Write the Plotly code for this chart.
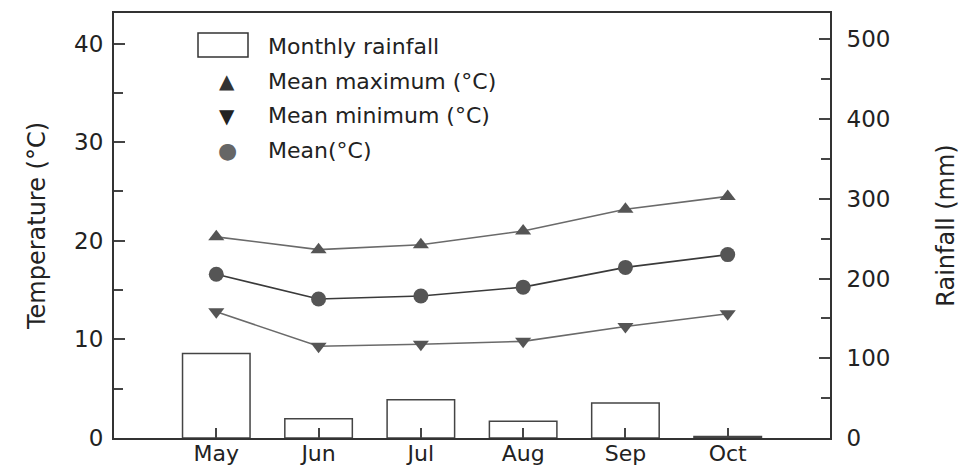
import plotly.graph_objects as go

# Monthly climate data
months = ["May", "Jun", "Jul", "Aug", "Sep", "Oct"]
rainfall_mm = [106, 24, 48, 21, 44, 2]
mean_max = [20.4, 19.1, 19.6, 21.0, 23.2, 24.5]
mean_min = [12.8, 9.3, 9.5, 9.8, 11.3, 12.6]
mean_temp = [16.6, 14.1, 14.4, 15.3, 17.3, 18.6]

legend_labels = ["Monthly rainfall", "Mean maximum (°C)", "Mean minimum (°C)", "Mean(°C)"]
temp_ticks = [0, 10, 20, 30, 40]
rain_ticks = [0, 100, 200, 300, 400, 500]

FONT = "DejaVu Sans"
W, H = 961, 475
ML, MR, MT, MB = 114, 131, 13, 37
PW, PH = W - ML - MR, H - MT - MB

AXIS_COL = "#333333"
MARK_COL = "#555555"
LINE_COL = "#6a6a6a"


def px(x):
    return (x - ML) / PW


def py(y):
    return (H - MB - y) / PH


xpos = list(range(len(months)))

fig = go.Figure()

fig.add_trace(go.Bar(
    x=xpos, y=rainfall_mm, yaxis="y2", width=0.66,
    marker=dict(color="white", line=dict(color="#444444", width=1.5)),
    showlegend=False,
))

fig.add_trace(go.Scatter(
    x=xpos, y=mean_max, mode="lines+markers",
    line=dict(color=LINE_COL, width=1.6),
    marker=dict(symbol="triangle-up", size=14, color=MARK_COL),
    showlegend=False,
))
fig.add_trace(go.Scatter(
    x=xpos, y=mean_temp, mode="lines+markers",
    line=dict(color="#3a3a3a", width=1.6),
    marker=dict(symbol="circle", size=15, color=MARK_COL),
    showlegend=False,
))
fig.add_trace(go.Scatter(
    x=xpos, y=mean_min, mode="lines+markers",
    line=dict(color=LINE_COL, width=1.6),
    marker=dict(symbol="triangle-down", size=14, color=MARK_COL),
    showlegend=False,
))

tickfont = dict(family=FONT, size=23, color="#222222")
tick_style = dict(ticks="inside", ticklen=11, tickwidth=1.5, tickcolor="#444444")

fig.update_layout(
    width=W, height=H,
    margin=dict(l=ML, r=MR, t=MT, b=MB, pad=0, autoexpand=False),
    paper_bgcolor="white", plot_bgcolor="white",
    font=dict(family=FONT, size=22, color="#222222"),
    xaxis=dict(
        range=[-1, 6], tickmode="array", tickvals=xpos, ticktext=months,
        ticks="inside", ticklen=10, tickwidth=1.5, tickcolor="#444444",
        showline=True, linecolor=AXIS_COL, linewidth=2, mirror=True,
        showgrid=False, zeroline=False,
        tickfont=dict(family=FONT, size=22, color="#222222"),
        ticklabelstandoff=-5, automargin=False,
    ),
    yaxis=dict(
        range=[0, 43.1], tickmode="array", tickvals=temp_ticks, **tick_style,
        minor=dict(ticks="inside", ticklen=9, tickwidth=1.5, tickcolor="#444444",
                   tickmode="linear", tick0=0, dtick=5),
        showline=True, linecolor=AXIS_COL, linewidth=2,
        showgrid=False, zeroline=False, tickfont=tickfont,
        ticklabelstandoff=4, automargin=False,
        title=dict(text="Temperature (°C)", font=dict(family=FONT, size=24), standoff=22),
    ),
    yaxis2=dict(
        range=[0, 533], overlaying="y", side="right", tickmode="array", tickvals=rain_ticks,
        **tick_style,
        minor=dict(ticks="inside", ticklen=9, tickwidth=1.5, tickcolor="#444444",
                   tickmode="linear", tick0=0, dtick=50),
        showline=True, linecolor=AXIS_COL, linewidth=2,
        showgrid=False, zeroline=False, tickfont=tickfont,
        ticklabelstandoff=10, automargin=False,
        title=dict(text="Rainfall (mm)", font=dict(family=FONT, size=24), standoff=48),
    ),
    showlegend=False,
)

# Legend drawn by hand: rectangle swatch for rainfall, glyphs for the temperature series
fig.add_shape(type="rect", xref="paper", yref="paper",
              x0=px(198), x1=px(248), y0=py(57), y1=py(33),
              line=dict(color="#333333", width=1.5), fillcolor="white")

row_y = [47, 81, 116, 150]
for label, yy in zip(legend_labels, row_y):
    fig.add_annotation(xref="paper", yref="paper", x=px(266), y=py(yy),
                       xanchor="left", yanchor="middle", showarrow=False,
                       text=label, font=dict(family=FONT, size=22, color="#222222"))

for glyph, yy, sz, col in [("▲", 81, 20, "#333333"), ("▼", 116, 20, "#222222"), ("●", 150, 22, "#666666")]:
    fig.add_annotation(xref="paper", yref="paper", x=px(227), y=py(yy),
                       xanchor="center", yanchor="middle", showarrow=False,
                       text=glyph, font=dict(family=FONT, size=sz, color=col))

fig.write_html("out.html")
